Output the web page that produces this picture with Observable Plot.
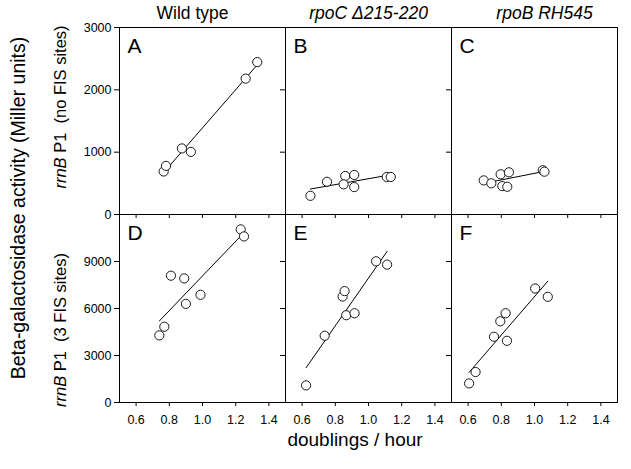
<!DOCTYPE html>
<html><head><meta charset="utf-8">
<script src="https://cdn.jsdelivr.net/npm/d3@7"></script>
<script src="https://cdn.jsdelivr.net/npm/@observablehq/plot@0.6"></script>
<style>
body{margin:0;background:#fff;}
#chart{position:relative;width:631px;height:469px;font-family:"Liberation Sans",Arial,sans-serif;}
#chart svg{position:absolute;left:0;top:0;overflow:visible;background:transparent;}
</style></head><body><div id="chart"></div>
<script>
// ---- data ----
const columns = ["Wild type", "rpoC Δ215-220", "rpoB RH545"];
const topLetters = ["A", "B", "C"];
const bottomLetters = ["D", "E", "F"];
const xTicks = [0.6, 0.8, 1.0, 1.2, 1.4];
const topTicks = [0, 1000, 2000, 3000];
const bottomTicks = [0, 3000, 6000, 9000];
const yTitle = "Beta-galactosidase activity (Miller units)";
const xTitle = "doublings / hour";
const topRowLabel = ["rrnB", " P1  (no FIS sites)"];
const bottomRowLabel = ["rrnB", " P1  (3 FIS sites)"];

// Panel A (wild type, no FIS sites)
const aX = [0.766, 0.78, 0.876, 0.93, 1.26, 1.33];
const aY = [690, 780, 1060, 1005, 2180, 2445];
// Panel B (rpoC, no FIS sites)
const bX = [0.65, 0.75, 0.86, 0.914, 0.85, 0.914, 1.11, 1.134];
const bY = [300, 525, 618, 634, 484, 440, 602, 602];
// Panel C (rpoB, no FIS sites)
const cX = [0.694, 0.74, 0.796, 0.846, 0.806, 0.836, 1.05, 1.06];
const cY = [547, 500, 645, 677, 456, 445, 710, 687];
// Panel D (wild type, 3 FIS sites)
const dX = [0.74, 0.77, 0.81, 0.89, 0.90, 0.988, 1.23, 1.25];
const dY = [4285, 4837, 8094, 7921, 6296, 6874, 11050, 10600];
// Panel E (rpoC, 3 FIS sites)
const eX = [0.624, 0.736, 0.844, 0.856, 0.866, 0.916, 1.046, 1.112];
const eY = [1092, 4260, 6765, 7110, 5570, 5698, 9013, 8800];
// Panel F (rpoB, 3 FIS sites)
const fX = [0.606, 0.645, 0.756, 0.794, 0.826, 0.834, 1.004, 1.08];
const fY = [1220, 1946, 4195, 5184, 5698, 3938, 7278, 6745];

// ---- build tables ----
function rows(col, xs, ys) { return xs.map((x, i) => ({col, x, y: ys[i]})); }
const topData = [...rows(columns[0], aX, aY), ...rows(columns[1], bX, bY), ...rows(columns[2], cX, cY)];
const bottomData = [...rows(columns[0], dX, dY), ...rows(columns[1], eX, eY), ...rows(columns[2], fX, fY)];

const W = 631, H = 469;
const font = "'Liberation Sans', Arial, sans-serif";
const titleDx = [-10, 0, 10];

function panelRow(data, yMax, yTicks, letters, isTop) {
  const marks = [
    Plot.frame({stroke: "black", strokeWidth: 1}),
    Plot.axisX({ticks: xTicks, tickSize: 4, fill: "none", label: null}),
    Plot.axisY({ticks: yTicks, tickSize: 5, facetAnchor: null, fill: "none", label: null}),
    Plot.axisY({ticks: yTicks, tickSize: 5, tickPadding: 3, stroke: "none", label: null, tickFormat: d3.format("d"), fontSize: 12.5}),
    Plot.linearRegressionY(data, {x: "x", y: "y", fx: "col", ci: 0, stroke: "black", strokeWidth: 1}),
    Plot.dot(data, {x: "x", y: "y", fx: "col", r: 4.6, fill: "white", stroke: "black", strokeWidth: 0.9}),
    Plot.text(letters, {fx: (d, i) => columns[i], text: d => d, frameAnchor: "top-left", dx: 8, dy: 11, lineAnchor: "top", textAnchor: "start", fontSize: 21})
  ];
  if (!isTop) {
    marks.push(Plot.axisX({ticks: xTicks, tickSize: 4, tickPadding: 9, stroke: "none", label: null, tickFormat: d3.format(".1f"), fontSize: 12.5}));
  } else {
    columns.forEach((c, i) => {
      marks.push(Plot.text([c], {fx: d => d, text: d => d, frameAnchor: "top", dy: -14, dx: titleDx[i], lineAnchor: "middle", fontSize: 17.5, fontStyle: i === 0 ? "normal" : "italic"}));
    });
  }
  return Plot.plot({
    width: W, height: H,
    marginLeft: 118, marginRight: 13,
    marginTop: isTop ? 27 : 214,
    marginBottom: isTop ? H - 214 : 67,
    style: {fontFamily: font, fontSize: "12.5px", color: "black", background: "transparent", overflow: "visible"},
    fx: {domain: columns, padding: 0, axis: null},
    x: {domain: [0.5, 1.5]},
    y: {domain: [0, yMax]},
    marks
  });
}

const chart = document.getElementById("chart");
chart.appendChild(panelRow(topData, 3000, topTicks, topLetters, true));
chart.appendChild(panelRow(bottomData, 12000, bottomTicks, bottomLetters, false));

// ---- overall labels ----
const svg = d3.select(chart).append("svg").attr("width", W).attr("height", H)
  .style("font-family", font).style("white-space", "pre");
svg.append("text").attr("transform", "translate(25,208) rotate(-90)")
  .attr("text-anchor", "middle").attr("font-size", 19.5).text(yTitle);
function rowLabel(parts, cy) {
  const t = svg.append("text").attr("transform", `translate(66,${cy}) rotate(-90)`)
    .attr("text-anchor", "middle").attr("font-size", 16.5).attr("xml:space", "preserve");
  t.append("tspan").attr("font-style", "italic").text(parts[0]);
  t.append("tspan").text(parts[1]);
}
rowLabel(topRowLabel, 107);
rowLabel(bottomRowLabel, 330);
svg.append("text").attr("x", 355).attr("y", 446).attr("text-anchor", "middle")
  .attr("font-size", 19).text(xTitle);
</script></body></html>
